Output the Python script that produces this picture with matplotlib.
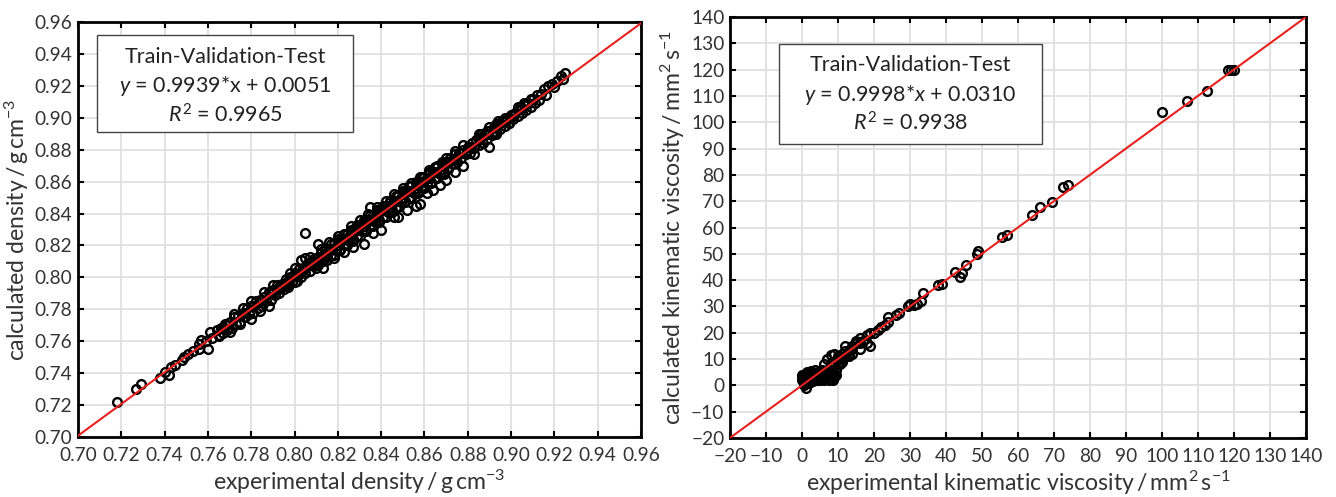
import matplotlib
matplotlib.use("Agg")
import matplotlib.pyplot as plt
from matplotlib.patches import Rectangle

plt.rcParams['font.family'] = ['Lato', 'DejaVu Sans']
plt.rcParams['mathtext.fontset'] = 'custom'
plt.rcParams['mathtext.rm'] = 'Lato'
plt.rcParams['mathtext.it'] = 'Lato:italic'
plt.rcParams['mathtext.bf'] = 'Lato:bold'

# ---------------- density data (experimental, calculated) ----------------
dens_exp_a = [0.766,0.768,0.770,0.772,0.774,0.776,0.778,0.780,0.782,0.784,0.786,0.788,0.790,0.792,0.794,0.796,0.798,
              0.800,0.802,0.804,0.806,0.808,0.810,0.812,0.814,0.816,0.818,0.820,0.822,0.824,0.826,0.828,0.830,0.832,
              0.834,0.836,0.838,0.840,0.842,0.844,0.846,0.848,0.850,0.852,0.854,0.856,0.858,0.860,0.862,0.864,0.866,
              0.868,0.870,0.872,0.874,0.876,0.878,0.880,0.882,0.884,0.886,0.888,0.890,0.892,0.894,0.896,0.898,0.900,
              0.902,0.904,0.906,0.908,0.910,0.912,0.914]
dens_calc_a = [0.768,0.771,0.772,0.775,0.776,0.778,0.781,0.782,0.785,0.786,0.788,0.791,0.792,0.795,0.796,0.799,0.800,
               0.803,0.805,0.806,0.809,0.811,0.812,0.815,0.817,0.818,0.821,0.823,0.824,0.827,0.829,0.831,0.833,0.835,
               0.836,0.839,0.841,0.842,0.845,0.847,0.848,0.851,0.853,0.854,0.857,0.859,0.860,0.863,0.865,0.866,0.869,
               0.871,0.872,0.875,0.877,0.878,0.880,0.882,0.884,0.886,0.888,0.890,0.892,0.894,0.896,0.898,0.900,0.902,
               0.903,0.906,0.908,0.909,0.912,0.914,0.915]
dens_exp_b = [0.767,0.769,0.771,0.773,0.775,0.777,0.779,0.781,0.783,0.785,0.787,0.789,0.791,0.793,0.795,0.797,0.799,
              0.801,0.803,0.805,0.807,0.809,0.811,0.813,0.815,0.817,0.819,0.821,0.823,0.825,0.827,0.829,0.831,0.833,
              0.835,0.837,0.839,0.841,0.843,0.845,0.847,0.849,0.851,0.853,0.855,0.857,0.859,0.861,0.863,0.865,0.867,
              0.869,0.871,0.873,0.875,0.877,0.879,0.881,0.883,0.885,0.887,0.889,0.891,0.893,0.895,0.897,0.899,0.901,
              0.903,0.905,0.907,0.909,0.911,0.913]
dens_calc_b = [0.765,0.767,0.768,0.771,0.772,0.775,0.777,0.778,0.781,0.782,0.785,0.786,0.789,0.790,0.793,0.794,0.797,
               0.798,0.800,0.803,0.804,0.807,0.808,0.810,0.813,0.814,0.817,0.818,0.820,0.823,0.824,0.826,0.829,0.830,
               0.832,0.835,0.836,0.838,0.841,0.842,0.844,0.847,0.848,0.850,0.853,0.854,0.856,0.859,0.860,0.862,0.865,
               0.866,0.868,0.871,0.872,0.875,0.877,0.878,0.881,0.883,0.884,0.887,0.889,0.891,0.893,0.895,0.897,0.899,
               0.901,0.903,0.905,0.907,0.909,0.911]
dens_exp_c = [0.790,0.793,0.796,0.799,0.802,0.805,0.808,0.811,0.814,0.817,0.820,0.823,0.826,0.829,0.832,0.835,0.838,
              0.841,0.844,0.847,0.850,0.853,0.856,0.859,0.862,0.865,0.868,0.871,0.874,0.877,0.880]
dens_calc_c = [0.790,0.794,0.796,0.800,0.802,0.806,0.808,0.812,0.814,0.818,0.820,0.824,0.826,0.830,0.832,0.836,0.838,
               0.842,0.844,0.848,0.850,0.854,0.856,0.860,0.862,0.866,0.868,0.872,0.874,0.878,0.880]
dens_exp_d = [0.826,0.830,0.834,0.838,0.842,0.846,0.850,0.854,0.858,0.862,0.866,0.870,0.874,0.878,0.812,0.816,0.820,
              0.835,0.811,0.805,0.805,0.807,0.803,0.800,0.798,0.790,0.786,0.780,0.776,0.772,0.885,0.889,0.893,0.897]
dens_calc_d = [0.832,0.836,0.840,0.844,0.848,0.852,0.856,0.859,0.863,0.867,0.870,0.875,0.879,0.883,0.818,0.822,0.826,
               0.844,0.821,0.828,0.812,0.813,0.811,0.806,0.803,0.795,0.791,0.785,0.781,0.777,0.890,0.892,0.896,0.900]
dens_exp_e = [0.788,0.797,0.800,0.810,0.813,0.818,0.823,0.827,0.832,0.836,0.840,0.846,0.848,0.852,0.856,0.858,0.861,
              0.864,0.867,0.870,0.874,0.878,0.883,0.890,0.893,0.760,0.765,0.770,0.775,0.780,0.784]
dens_calc_e = [0.782,0.795,0.797,0.806,0.806,0.812,0.816,0.819,0.821,0.828,0.830,0.838,0.838,0.842,0.845,0.846,0.853,
               0.855,0.858,0.861,0.866,0.870,0.877,0.882,0.890,0.755,0.763,0.766,0.771,0.774,0.779]
dens_exp_f = [0.718,0.727,0.729,0.738,0.740,0.742,0.743,0.745,0.748,0.749,0.751,0.753,0.756,0.757,0.756,0.759,0.761,
              0.762,0.764,0.765,0.767,0.769,0.915,0.917,0.919,0.921,0.923,0.925,0.924,0.920,0.916,0.903,0.906,0.909,
              0.894,0.890,0.892,0.886,0.899,0.901]
dens_calc_f = [0.722,0.730,0.733,0.737,0.741,0.739,0.744,0.745,0.748,0.750,0.752,0.754,0.755,0.761,0.758,0.760,0.766,
               0.762,0.767,0.764,0.768,0.770,0.918,0.920,0.921,0.923,0.926,0.928,0.924,0.919,0.914,0.907,0.909,0.912,
               0.898,0.894,0.891,0.890,0.897,0.901]
dens_exp_g = [0.777,0.781,0.785,0.789,0.793,0.797,0.801,0.805,0.809,0.813,0.817,0.821,0.825,0.829,0.833,0.837,0.841,
              0.845,0.849,0.853,0.857,0.861,0.865,0.869,0.873,0.877,0.881,0.885,0.889,0.893,0.897,0.901,0.905]
dens_calc_g = [0.778,0.782,0.786,0.790,0.793,0.798,0.802,0.806,0.810,0.813,0.818,0.822,0.826,0.830,0.834,0.838,0.842,
               0.846,0.850,0.854,0.858,0.862,0.866,0.870,0.874,0.878,0.882,0.886,0.890,0.894,0.898,0.902,0.906]
dens_exp_h = [0.815,0.818,0.821,0.824,0.827,0.830,0.833,0.836,0.839,0.842,0.845,0.848,0.851,0.854,0.857,0.860,0.863,
              0.866,0.869]
dens_calc_h = [0.811,0.814,0.817,0.820,0.823,0.826,0.829,0.832,0.835,0.838,0.841,0.844,0.847,0.850,0.853,0.856,0.859,
               0.862,0.865]
dens_exp_i = [0.814,0.817,0.820,0.823,0.826,0.829,0.832,0.835,0.838,0.841,0.844,0.847,0.850,0.853,0.856,0.859,0.862,
              0.865,0.868]
dens_calc_i = [0.818,0.821,0.824,0.827,0.830,0.833,0.836,0.839,0.842,0.845,0.848,0.851,0.854,0.857,0.860,0.863,0.866,
               0.869,0.872]

dens_slope, dens_icpt, dens_r2 = 0.9939, 0.0051, 0.9965
dens_ticks = [0.70,0.72,0.74,0.76,0.78,0.80,0.82,0.84,0.86,0.88,0.90,0.92,0.94,0.96]

# ---------------- viscosity data ----------------
visc_exp = [0,0,0,0.5,0.5,1,1,1,1.5,2,2,2,2.5,3,3,3.5,4,4,4.5,5,5,5.5,5.5,6,6,6.5,7,7,7.5,8,8,8.5,9,9,6,7,8,9,
            10,10,11,11,12,12,13,13,14,15,15,16,16,17,18,18,19,19,20,21,22,23,24,24,26,27,29.5,30,31,32,33,33.5,
            37.8,39,42.5,43.9,44.5,45.6,48.5,48.8,55.6,57,64,66,69.4,72.5,74,100,107,112.5,118.3,119.3,120]
visc_calc = [4,3,2,1,0,-1,4.5,3,2,5,3,1,4,2,4.5,3,2,4,5,3,2,6,4,3,5,2.5,4,6,3,4,2.5,7,3.5,5,8,10,11.5,12,
             10,8,9,12,15,11,13,12,14,16,17,14,18,17,16,19,15,20,20,21,22,23,26,24,26.7,27.5,30,31,30.5,31,32,35,
             38,38.5,43,41.1,42.7,45.7,50,51,56.3,57,64.7,67.8,69.6,75.4,76,103.9,108,111.9,119.8,120,120]
visc_exp_blob = [1,1,1.5,2,2.5,3,3,3.5,4,4.5,4.5,5,5.5,6,6,6.5,7,7.5,7.5,8,8.5,8.5,9,9.5,9.5,8,9,10,10.5,11,12,13,
                 14,14,16,0.5,1.5,2.5,3.5]
visc_calc_blob = [1,2.5,4,2,3,1.5,3,4.5,3,2,4,5,3,2,4,5.5,3,2,5,3.5,2,4.5,3,4,6,8,9,11,8,10,13,11,15,12,16,3,5,5.5,6]
visc_slope, visc_icpt, visc_r2 = 0.9998, 0.0310, 0.9938
visc_ticks = [-20,-10,0,10,20,30,40,50,60,70,80,90,100,110,120,130,140]

fig = plt.figure(figsize=(13.36, 4.97), dpi=100)
ax1 = fig.add_axes([0.0584, 0.1207, 0.4214, 0.8350])
ax2 = fig.add_axes([0.5464, 0.1187, 0.4311, 0.8471])

TXT = '#333333'

def style(ax, ticks, fmt):
    ax.set_xlim(ticks[0], ticks[-1])
    ax.set_ylim(ticks[0], ticks[-1])
    ax.set_xticks(ticks)
    ax.set_yticks(ticks)
    ax.set_xticklabels([fmt(t) for t in ticks])
    ax.set_yticklabels([fmt(t) for t in ticks])
    ax.grid(True, color='#e2e2e2', linewidth=1.4)
    ax.set_axisbelow(True)
    ax.tick_params(direction='in', length=4, width=1.5, top=True, right=True,
                   labelsize=13.8, colors='black', labelcolor=TXT)
    ax.tick_params(axis='x', pad=7)
    ax.tick_params(axis='y', pad=4)
    for s in ax.spines.values():
        s.set_linewidth(2.0)
        s.set_color('black')

def scat(ax, xs, ys):
    ax.plot(xs, ys, linestyle='none', marker='o', markersize=6.3, markerfacecolor='none',
            markeredgecolor='black', markeredgewidth=1.7, zorder=3)

style(ax1, dens_ticks, lambda t: f"{t:.2f}")
for xs, ys in [(dens_exp_a, dens_calc_a), (dens_exp_b, dens_calc_b), (dens_exp_c, dens_calc_c),
               (dens_exp_d, dens_calc_d), (dens_exp_e, dens_calc_e), (dens_exp_f, dens_calc_f),
               (dens_exp_g, dens_calc_g), (dens_exp_h, dens_calc_h), (dens_exp_i, dens_calc_i)]:
    scat(ax1, xs, ys)
lx = [dens_ticks[0], dens_ticks[-1]]
ax1.plot(lx, [dens_slope * v + dens_icpt for v in lx], color='#e8201e', linewidth=1.5, zorder=4)
ax1.set_xlabel("experimental density$\\,/\\,$g$\\,$cm$^{-3}$", fontsize=16.6, color=TXT, labelpad=3)
ax1.set_ylabel("calculated density$\\,/\\,$g$\\,$cm$^{-3}$", fontsize=16.6, color=TXT)
ax1.yaxis.set_label_coords(-0.084, 0.5)
ax1.add_patch(Rectangle((0.034, 0.735), 0.454, 0.234, transform=ax1.transAxes, facecolor='white',
                        edgecolor='#444444', linewidth=1.0, zorder=5))
cx = 0.261
FS = 15.5
ax1.text(cx, 0.916, "Train-Validation-Test", transform=ax1.transAxes, ha='center', va='center',
         fontsize=FS, color='#222222', zorder=6)
ax1.text(cx, 0.845, f"$y$ = {dens_slope:.4f}*x + {dens_icpt:.4f}", transform=ax1.transAxes,
         ha='center', va='center', fontsize=FS, color='#222222', zorder=6)
ax1.text(cx, 0.776, f"$R^2$ = {dens_r2:.4f}", transform=ax1.transAxes, ha='center', va='center',
         fontsize=FS, color='#222222', zorder=6)

style(ax2, visc_ticks, lambda t: f"{t:d}".replace('-', '\u2212'))
scat(ax2, visc_exp, visc_calc)
scat(ax2, visc_exp_blob, visc_calc_blob)
lx2 = [visc_ticks[0], visc_ticks[-1]]
ax2.plot(lx2, [visc_slope * v + visc_icpt for v in lx2], color='#e8201e', linewidth=1.5, zorder=4)
ax2.set_xlabel("experimental kinematic viscosity$\\,/\\,$mm$^2\\,$s$^{-1}$", fontsize=16.6, color=TXT, labelpad=3)
ax2.set_ylabel("calculated kinematic viscosity$\\,/\\,$mm$^2\\,$s$^{-1}$", fontsize=16.6, color=TXT)
ax2.yaxis.set_label_coords(-0.074, 0.5)
ax2.add_patch(Rectangle((0.085, 0.698), 0.457, 0.238, transform=ax2.transAxes, facecolor='white',
                        edgecolor='#444444', linewidth=1.0, zorder=5))
cx2 = 0.3135
ax2.text(cx2, 0.886, "Train-Validation-Test", transform=ax2.transAxes, ha='center', va='center',
         fontsize=FS, color='#222222', zorder=6)
ax2.text(cx2, 0.815, f"$y$ = {visc_slope:.4f}*$x$ + {visc_icpt:.4f}", transform=ax2.transAxes,
         ha='center', va='center', fontsize=FS, color='#222222', zorder=6)
ax2.text(cx2, 0.748, f"$R^2$ = {visc_r2:.4f}", transform=ax2.transAxes, ha='center', va='center',
         fontsize=FS, color='#222222', zorder=6)

fig.savefig("out.png", dpi=100)
